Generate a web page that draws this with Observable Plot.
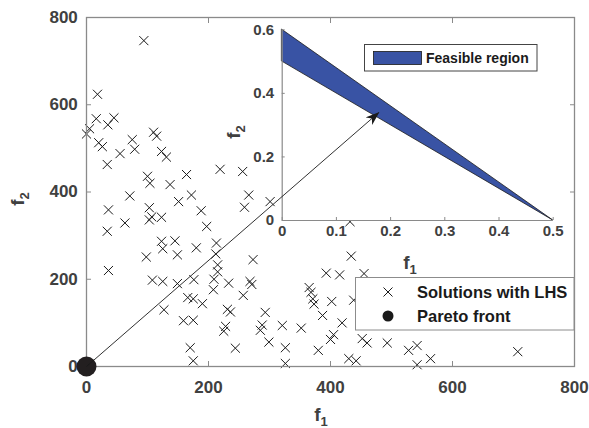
<!DOCTYPE html>
<html><head><meta charset="utf-8">
<script src="https://cdn.jsdelivr.net/npm/d3@7"></script>
<script src="https://cdn.jsdelivr.net/npm/@observablehq/plot@0.6"></script>
<style>
body{margin:0;background:#fff;}
#wrap{position:relative;width:589px;height:428px;overflow:hidden;font-family:"Liberation Sans",Arial,sans-serif;}
#wrap > *{position:absolute;}
</style></head><body><div id="wrap"></div>
<script>
// ---- data ----
const lhsF1 = [94,18,16,45,35,5,0,110,115,75,79,20,26,55,123,131,34,100,104,164,137,71,172,219,256,259,266,301,151,103,36,188,63,103,107,123,197,34,123,145,125,180,149,98,36,108,125,149,176,166,175,190,127,159,175,170,175,213,212,215,215,209,208,233,273,268,271,257,231,236,293,228,225,288,285,321,352,299,244,326,326,380,365,368,371,373,387,393,402,400,405,415,434,455,438,419,452,460,493,528,542,430,442,542,564,707,432];
const lhsF2 = [747,624,568,570,554,545,533,537,528,520,498,513,504,488,493,480,463,436,420,440,417,391,393,452,447,365,393,378,378,364,359,357,329,336,343,342,321,310,287,288,270,272,256,251,220,198,195,190,199,158,155,144,130,105,106,43,13,283,258,233,217,200,176,191,245,195,188,163,131,125,124,92,81,95,83,94,88,56,42,43,7,37,181,170,155,143,117,214,149,62,73,210,253,213,152,100,64,54,54,37,48,18,13,4,18,34,332];
const paretoF1 = [0];
const paretoF2 = [0];
const regionF1 = [0, 0.5];
const regionLower = [0.5, 0];
const regionUpper = [0.6, 0];
const arrowStart = [0, 0];
const arrowEnd = [479, 582];
const mainTicks = [0, 200, 400, 600, 800];
const insetXTicks = [0, 0.1, 0.2, 0.3, 0.4, 0.5];
const insetYTicks = [0, 0.2, 0.4, 0.6];
const legendMain = ["Solutions with LHS", "Pareto front"];
const legendInset = ["Feasible region"];

// ---- styles ----
const FONT = '"Liberation Sans", Arial, sans-serif';
const axisColor = "#8a8a8a", textColor = "#404040", ink = "#1a1a1a", blue = "#3953a4";
const W = 589, H = 428;
const mainM = {marginLeft: 86, marginRight: 15, marginTop: 17, marginBottom: 62};
const baseStyle = {fontFamily: FONT, background: "transparent", overflow: "visible"};
const wrap = document.getElementById("wrap");

const pts = lhsF1.map((x, i) => ({f1: x, f2: lhsF2[i]}));
const pareto = paretoF1.map((x, i) => ({f1: x, f2: paretoF2[i]}));
const region = regionF1.map((x, i) => ({f1: x, lo: regionLower[i], hi: regionUpper[i]}));

// ---- main plot ----
const main = Plot.plot({
  width: W, height: H, ...mainM,
  x: {domain: [0, 800]}, y: {domain: [0, 800]},
  style: baseStyle,
  marks: [
    Plot.dot(pts, {x: "f1", y: "f2", symbol: "times", r: 4.2, stroke: ink, strokeWidth: 1}),
    Plot.frame({stroke: axisColor, strokeWidth: 1.3}),
    Plot.axisX({ticks: mainTicks, tickSize: -5, tickPadding: 19, stroke: axisColor, fill: textColor, fontSize: 17, fontWeight: "bold", label: null, tickFormat: d => String(d)}),
    Plot.axisX({anchor: "top", ticks: mainTicks, tickSize: -5, stroke: axisColor, label: null, tickFormat: () => ""}),
    Plot.axisY({ticks: mainTicks, tickSize: -5, tickPadding: 13.7, stroke: axisColor, fill: textColor, fontSize: 17, fontWeight: "bold", label: null, tickFormat: d => String(d)}),
    Plot.axisY({anchor: "right", ticks: mainTicks, tickSize: -5, stroke: axisColor, label: null, tickFormat: () => ""}),
    Plot.dot(pareto, {x: "f1", y: "f2", r: 10, fill: "#231f20"})
  ]
});
main.style.left = "0px"; main.style.top = "0px";
wrap.appendChild(main);
const ms = d3.select(main);
ms.append("text").attr("x", 321).attr("y", 420.5).attr("font-size", 19).attr("font-weight", "bold").attr("fill", textColor)
  .html('f<tspan font-size="13" dy="5">1</tspan>');
ms.append("text").attr("transform", "translate(24,199) rotate(-90)").attr("font-size", 19).attr("font-weight", "bold").attr("fill", textColor)
  .html('f<tspan font-size="13" dy="5">2</tspan>');

// ---- main legend ----
const lg = d3.create("svg").attr("width", 220).attr("height", 54).style("left", "355px").style("top", "277px").style("font-family", FONT);
lg.append("rect").attr("x", 0.5).attr("y", 0.5).attr("width", 218.5).attr("height", 52.5).attr("fill", "#fff").attr("stroke", "#8c8c8c");
lg.append("path").attr("d", "M28.5,10.5L37.5,19.5M28.5,19.5L37.5,10.5").attr("stroke", ink).attr("stroke-width", 1);
lg.append("circle").attr("cx", 33).attr("cy", 39).attr("r", 5.5).attr("fill", ink);
lg.selectAll("text.l").data(legendMain).join("text").attr("x", 62).attr("y", (d, i) => 21 + i * 24)
  .attr("font-size", 16.5).attr("font-weight", "bold").attr("fill", ink).text(d => d);
wrap.appendChild(lg.node());

// ---- inset plot ----
const IL = 200, IT = 20;
const inset = Plot.plot({
  width: 370, height: 262, marginLeft: 81.7, marginRight: 17.3, marginTop: 9.3, marginBottom: 62,
  x: {domain: [0, 0.5]}, y: {domain: [0, 0.6]},
  style: baseStyle,
  marks: [
    Plot.frame({fill: "white", stroke: null}),
    Plot.areaY(region, {x: "f1", y1: "lo", y2: "hi", fill: blue, stroke: ink, strokeWidth: 0.8}),
    Plot.ruleX([0], {stroke: axisColor, strokeWidth: 1.2}),
    Plot.ruleY([0], {stroke: axisColor, strokeWidth: 1.2}),
    Plot.axisX({ticks: insetXTicks, tickSize: -3, tickPadding: 7.5, stroke: axisColor, fill: textColor, fontSize: 15, fontWeight: "bold", label: null, tickFormat: d => d === 0 ? "0" : d.toFixed(1)}),
    Plot.axisY({ticks: insetYTicks, tickSize: -3, tickPadding: 11, stroke: axisColor, fill: textColor, fontSize: 15, fontWeight: "bold", label: null, tickFormat: d => d === 0 ? "0" : d.toFixed(1)})
  ]
});
inset.style.left = IL + "px"; inset.style.top = IT + "px";
wrap.appendChild(inset);
const is = d3.select(inset);
is.append("text").attr("x", 410 - IL).attr("y", 269 - IT).attr("font-size", 19).attr("font-weight", "bold").attr("fill", textColor)
  .html('f<tspan font-size="13" dy="5">1</tspan>');
is.append("text").attr("transform", `translate(${240 - IL},${132 - IT}) rotate(-90)`).attr("font-size", 19).attr("font-weight", "bold").attr("fill", textColor)
  .html('f<tspan font-size="13" dy="5">2</tspan>');

// ---- inset legend ----
const il = d3.create("svg").attr("width", 175).attr("height", 29).style("left", "364px").style("top", "44px").style("font-family", FONT);
il.append("rect").attr("x", 0.5).attr("y", 0.5).attr("width", 172.5).attr("height", 26.5).attr("fill", "#fff").attr("stroke", "#444");
il.append("rect").attr("x", 9.5).attr("y", 7.5).attr("width", 48).attr("height", 13).attr("fill", blue).attr("stroke", ink).attr("stroke-width", 0.8);
il.selectAll("text").data(legendInset).join("text").attr("x", 62).attr("y", 19).attr("font-size", 14).attr("font-weight", "bold").attr("fill", ink).text(d => d);
wrap.appendChild(il.node());

// ---- arrow overlay ----
const arrowPlot = Plot.plot({
  width: W, height: H, ...mainM,
  x: {domain: [0, 800], axis: null}, y: {domain: [0, 800], axis: null},
  style: baseStyle,
  marks: [
    Plot.link([{a: arrowStart, b: arrowEnd}], {x1: d => d.a[0], y1: d => d.a[1], x2: d => d.b[0], y2: d => d.b[1], stroke: ink, strokeWidth: 0.9})
  ]
});
arrowPlot.style.left = "0px"; arrowPlot.style.top = "0px"; arrowPlot.style.pointerEvents = "none";
const as = d3.select(arrowPlot);
const defs = as.insert("defs", ":first-child");
defs.append("marker").attr("id", "ahead").attr("viewBox", "0 0 14 10").attr("refX", 13).attr("refY", 5)
  .attr("markerWidth", 14).attr("markerHeight", 10).attr("markerUnits", "userSpaceOnUse").attr("orient", "auto")
  .append("path").attr("d", "M0,0L14,5L0,10L4,5Z").attr("fill", ink);
as.selectAll("path").filter(function(){ return !this.closest("marker"); }).attr("marker-end", "url(#ahead)");
wrap.appendChild(arrowPlot);
</script></body></html>
